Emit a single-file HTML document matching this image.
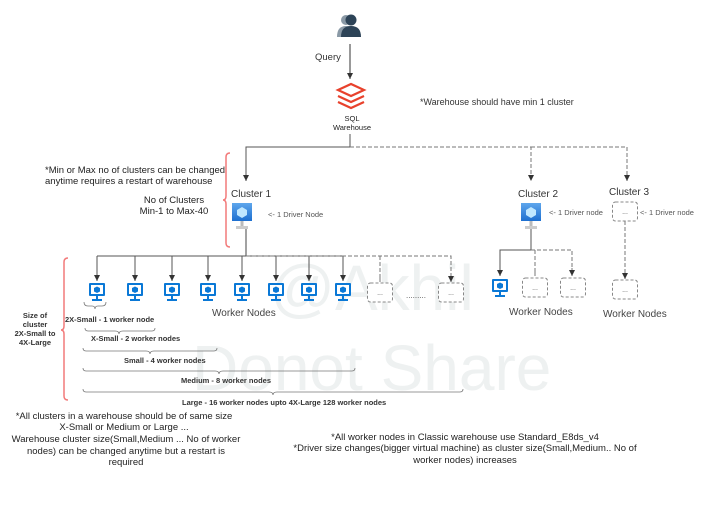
<!DOCTYPE html>
<html><head><meta charset="utf-8"><style>
html,body{margin:0;padding:0;background:#fff;}
svg{display:block;font-family:"Liberation Sans",sans-serif;}
</style></head><body>
<svg width="701" height="512" viewBox="0 0 701 512" xmlns="http://www.w3.org/2000/svg">
<defs>
<marker id="a" markerWidth="6" markerHeight="6" refX="6" refY="3" orient="auto" markerUnits="userSpaceOnUse"><path d="M0,0 L6,3 L0,6 z" fill="#333"/></marker>
<linearGradient id="g" x1="0" y1="0" x2="0" y2="1"><stop offset="0" stop-color="#5ea6ec"/><stop offset="1" stop-color="#1d6fd0"/></linearGradient>
<g id="w"><rect x="-8" y="0" width="16" height="13" rx="1" fill="#0a78d6"/><rect x="-6" y="2" width="12" height="9" fill="#fff"/><path d="M0,3.5 L3,5 L3,8.5 L0,10 L-3,8.5 L-3,5 z" fill="#0a78d6"/><rect x="-1" y="13" width="2" height="3" fill="#0a78d6"/><rect x="-5" y="16" width="10" height="2" fill="#0a78d6"/></g>
<g id="d"><rect x="-10" y="0" width="20" height="18" fill="url(#g)"/><path d="M0,4 L5,7 L5,12 L0,15 L-5,12 L-5,7 z" fill="#bfe7ff"/><rect x="-1.5" y="18" width="3" height="6" fill="#bbb"/><rect x="-6" y="23" width="12" height="3" fill="#ccc"/></g>
<g id="b"><rect x="-12.5" y="0" width="25" height="19" rx="3" fill="#fff" stroke="#888" stroke-dasharray="3,2"/><text x="0" y="12" font-size="7" text-anchor="middle" fill="#555">...</text></g>
</defs>
<!-- watermark -->
<text x="270" y="310" font-size="64" fill="#eef1f1">@Akhil</text>
<text x="192" y="390" font-size="64" fill="#eef1f1">Donot Share</text>

<!-- user -->
<circle cx="346" cy="20" r="5" fill="#8a99a6"/><path d="M337,37 Q337,26 346,26 Q355,26 355,37 z" fill="#8a99a6"/>
<circle cx="351" cy="20" r="5.5" fill="#2d4357"/><path d="M341,37 Q341,26 351,26 Q361,26 361,37 z" fill="#2d4357"/>
<line x1="350" y1="44" x2="350" y2="79" stroke="#333" marker-end="url(#a)"/>
<text x="315" y="60" font-size="9.5" fill="#333">Query</text>
<!-- databricks -->
<g fill="none" stroke="#e8412c" stroke-width="2.2">
<path d="M338,90 L351,84 L364,90 L351,96 z"/><path d="M338,96 L351,102 L364,96"/><path d="M338,102 L351,108 L364,102"/>
</g>
<text x="352" y="121" font-size="7.5" text-anchor="middle" fill="#222">SQL</text>
<text x="352" y="130" font-size="7.5" text-anchor="middle" fill="#222">Warehouse</text>
<text x="420" y="105" font-size="9" fill="#333">*Warehouse should have min 1 cluster</text>

<!-- top connectors -->
<path d="M350,134 L350,147 L246,147 L246,181" fill="none" stroke="#555" marker-end="url(#a)"/>
<path d="M350,147 L531,147 L531,181" fill="none" stroke="#777" stroke-dasharray="4,2" marker-end="url(#a)"/>
<path d="M531,147 L627,147 L627,181" fill="none" stroke="#777" stroke-dasharray="4,2" marker-end="url(#a)"/>

<!-- left notes -->
<text x="45" y="173" font-size="9.5" fill="#222">*Min or Max no of clusters can be changed</text>
<text x="45" y="184" font-size="9.5" fill="#222">anytime requires a restart of warehouse</text>
<text x="174" y="203" font-size="9.5" fill="#222" text-anchor="middle">No of Clusters</text>
<text x="174" y="214" font-size="9.5" fill="#222" text-anchor="middle">Min-1 to Max-40</text>
<path d="M230,153 Q226,153 226,157 L226,196 Q226,200 223,200 Q226,200 226,204 L226,243 Q226,247 230,247" fill="none" stroke="#f27a7a" stroke-width="1.5"/>

<!-- clusters -->
<text x="231" y="197" font-size="10" fill="#333">Cluster 1</text>
<use href="#d" x="242" y="203"/>
<text x="268" y="217" font-size="7.5" fill="#555">&lt;- 1 Driver Node</text>
<text x="518" y="197" font-size="10" fill="#333">Cluster 2</text>
<use href="#d" x="531" y="203"/>
<text x="549" y="215" font-size="7.5" fill="#555">&lt;- 1 Driver node</text>
<text x="609" y="195" font-size="10" fill="#333">Cluster 3</text>
<use href="#b" x="625" y="202"/>
<text x="640" y="215" font-size="7.5" fill="#555">&lt;- 1 Driver node</text>

<!-- cluster 1 workers -->
<path d="M246,229 L246,256" stroke="#444" fill="none"/>
<path d="M343,256 L97,256" stroke="#555" fill="none"/>
<g stroke="#555" fill="none">
<line x1="97" y1="256" x2="97" y2="281" marker-end="url(#a)"/><line x1="135" y1="256" x2="135" y2="281" marker-end="url(#a)"/>
<line x1="172" y1="256" x2="172" y2="281" marker-end="url(#a)"/><line x1="208" y1="256" x2="208" y2="281" marker-end="url(#a)"/>
<line x1="242" y1="256" x2="242" y2="281" marker-end="url(#a)"/><line x1="276" y1="256" x2="276" y2="281" marker-end="url(#a)"/>
<line x1="309" y1="256" x2="309" y2="281" marker-end="url(#a)"/><line x1="343" y1="256" x2="343" y2="281" marker-end="url(#a)"/>
</g>
<path d="M246,256 L451,256 L451,274 M380,256 L380,274" stroke="#777" stroke-dasharray="4,2" fill="none"/>
<path d="M380,274 L380,282 M451,274 L451,282" stroke="#777" marker-end="url(#a)"/>
<use href="#w" x="97" y="283"/><use href="#w" x="135" y="283"/><use href="#w" x="172" y="283"/><use href="#w" x="208" y="283"/>
<use href="#w" x="242" y="283"/><use href="#w" x="276" y="283"/><use href="#w" x="309" y="283"/><use href="#w" x="343" y="283"/>
<use href="#b" x="380" y="283"/><use href="#b" x="451" y="283"/>
<text x="406" y="298" font-size="8" fill="#555">.........</text>
<text x="212" y="316" font-size="10" fill="#444">Worker Nodes</text>

<!-- cluster 2 workers -->
<path d="M531,229 L531,250 L500,250 L500,276" stroke="#555" fill="none" marker-end="url(#a)"/>
<path d="M531,250 L572,250 L572,268 M535,250 L535,268" stroke="#777" stroke-dasharray="4,2" fill="none"/>
<path d="M535,268 L535,276 M572,268 L572,276" stroke="#777" marker-end="url(#a)"/>
<use href="#w" x="500" y="279"/><use href="#b" x="535" y="278"/><use href="#b" x="573" y="278"/>
<text x="509" y="315" font-size="10" fill="#444">Worker Nodes</text>
<!-- cluster 3 -->
<path d="M625,221 L625,270" stroke="#777" stroke-dasharray="4,2" fill="none"/>
<path d="M625,270 L625,279" stroke="#777" marker-end="url(#a)"/>
<use href="#b" x="625" y="280"/>
<text x="603" y="317" font-size="10" fill="#444">Worker Nodes</text>

<!-- size brace -->
<path d="M68,258 Q64,258 64,262 L64,326 Q64,330 61,330 Q64,330 64,334 L64,396 Q64,400 68,400" fill="none" stroke="#f27a7a" stroke-width="1.5"/>
<g font-size="7.5" font-weight="bold" fill="#333" text-anchor="middle">
<text x="35" y="318">Size of</text><text x="35" y="327">cluster</text><text x="35" y="336">2X-Small to</text><text x="35" y="345">4X-Large</text>
</g>
<g fill="none" stroke="#777" stroke-width="0.8">
<path d="M84,302 Q84,306 88,306 L92,306 Q95,306 95,309 Q95,306 98,306 L102,306 Q106,306 106,302"/>
<path d="M85,328 Q85,331 88,331 L115,331 Q119,331 119,334 Q119,331 123,331 L152,331 Q155,331 155,328"/>
<path d="M83,348 Q83,351 86,351 L146,351 Q150,351 150,354 Q150,351 154,351 L214,351 Q217,351 217,348"/>
<path d="M83,368 Q83,371 86,371 L215,371 Q219,371 219,374 Q219,371 223,371 L352,371 Q355,371 355,368"/>
<path d="M83,389 Q83,392 86,392 L269,392 Q273,392 273,395 Q273,392 277,392 L460,392 Q463,392 463,389"/>
</g>
<g font-size="7.5" font-weight="bold" fill="#333">
<text x="65" y="322">2X-Small - 1  worker node</text>
<text x="91" y="341">X-Small - 2 worker nodes</text>
<text x="124" y="363">Small - 4 worker nodes</text>
<text x="181" y="383">Medium - 8 worker nodes</text>
<text x="182" y="405">Large - 16 worker nodes  upto 4X-Large 128 worker nodes</text>
</g>
<!-- bottom notes -->
<g font-size="9.5" fill="#222" text-anchor="middle">
<text x="124" y="419">*All clusters in a warehouse should be of same size</text>
<text x="124" y="430">X-Small or Medium or Large ...</text>
<text x="126" y="442">Warehouse cluster size(Small,Medium ... No of worker</text>
<text x="126" y="454">nodes) can be changed anytime but a restart is</text>
<text x="126" y="465">required</text>
<text x="465" y="440">*All worker nodes in Classic warehouse use Standard_E8ds_v4</text>
<text x="465" y="451">*Driver size changes(bigger virtual machine) as cluster size(Small,Medium.. No of</text>
<text x="465" y="463">worker nodes) increases</text>
</g>
</svg>
</body></html>
